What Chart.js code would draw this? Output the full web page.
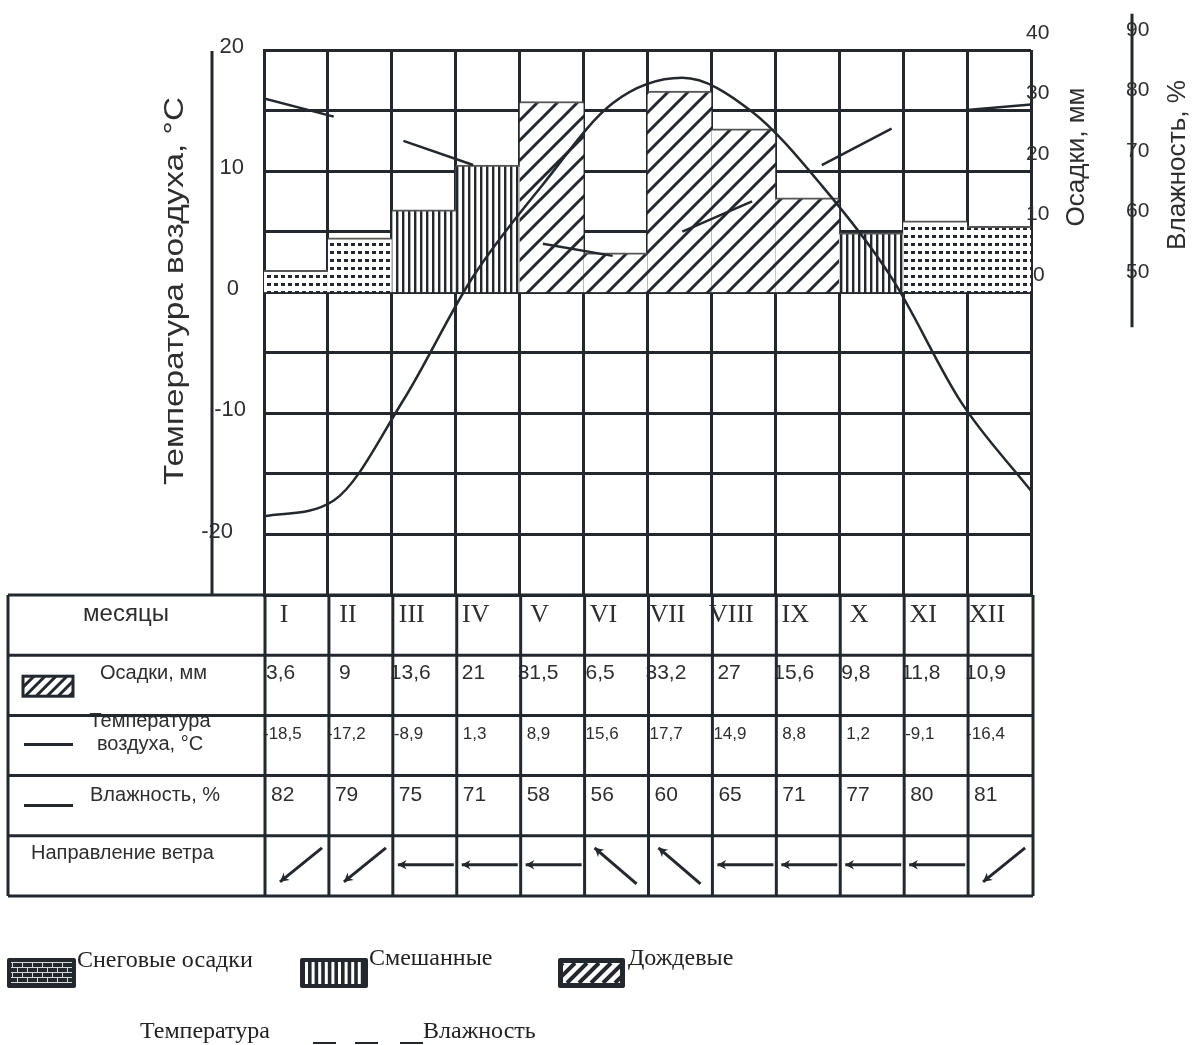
<!DOCTYPE html>
<html><head><meta charset="utf-8">
<script src="https://cdn.jsdelivr.net/npm/chart.js@4.4.1/dist/chart.umd.min.js"></script>
<style>html,body{margin:0;padding:0;background:#fff;overflow:hidden}#wrap{width:1192px;height:1045px;position:relative}</style>
</head><body><div id="wrap"><canvas id="c" width="1192" height="1045"></canvas></div>
<script>
const months = ['I','II','III','IV','V','VI','VII','VIII','IX','X','XI','XII'];
const precipitation = [3.6, 9, 13.6, 21, 31.5, 6.5, 33.2, 27, 15.6, 9.8, 11.8, 10.9];
const temperature = [-18.5, -17.2, -8.9, 1.3, 8.9, 15.6, 17.7, 14.9, 8.8, 1.2, -9.1, -16.4];
const humidity = [82, 79, 75, 71, 58, 56, 60, 65, 71, 77, 80, 81];
const precipType = ['snow','snow','mixed','mixed','rain','rain','rain','rain','rain','mixed','snow','snow'];
const windDir = ['SW','SW','W','W','W','NW','NW','W','W','W','W','SW'];
const tempTicks = [20, 10, 0, -10, -20];
const precipTicks = [40, 30, 20, 10, 0];
const humidityTicks = [90, 80, 70, 60, 50];

const INK = '#23282f';
const TXT = '#2e2e2e';
const SANS = '"Liberation Sans", Arial, sans-serif';
const SERIF = '"Liberation Serif", "Times New Roman", serif';
const fmt = v => String(v).replace('.', ',');

function makePattern(kind){
  const c = document.createElement('canvas');
  const g = c.getContext('2d');
  if(kind==='snow'){
    c.width=7; c.height=8;
    g.fillStyle='#fff'; g.fillRect(0,0,7,8);
    g.fillStyle=INK; g.fillRect(1,3,4,3);
  } else if(kind==='mixed'){
    c.width=6; c.height=6;
    g.fillStyle='#fff'; g.fillRect(0,0,6,6);
    g.fillStyle=INK; g.fillRect(0,0,2.4,6);
  } else {
    const s=20; c.width=s; c.height=s;
    g.fillStyle='#fff'; g.fillRect(0,0,s,s);
    g.strokeStyle=INK; g.lineWidth=3;
    g.beginPath();
    g.moveTo(-2,s+2); g.lineTo(s+2,-2);
    g.moveTo(-s/2-2,s/2+2); g.lineTo(s/2+2,-s/2-2);
    g.moveTo(s/2-2,s*1.5+2); g.lineTo(s*1.5+2,s/2-2);
    g.stroke();
  }
  return g.createPattern(c,'repeat');
}
const patterns = {snow:makePattern('snow'), mixed:makePattern('mixed'), rain:makePattern('rain')};

function seg(ctx,x1,y1,x2,y2){ctx.beginPath();ctx.moveTo(x1,y1);ctx.lineTo(x2,y2);ctx.stroke();}
function arrow(ctx,x1,y1,x2,y2){
  ctx.lineWidth=3; ctx.strokeStyle=INK; ctx.fillStyle=INK;
  seg(ctx,x1,y1,x2,y2);
  const ang=Math.atan2(y2-y1,x2-x1), L=10, W=0.5;
  ctx.beginPath();
  ctx.moveTo(x2,y2);
  ctx.lineTo(x2-L*Math.cos(ang-W), y2-L*Math.sin(ang-W));
  ctx.lineTo(x2-L*0.6*Math.cos(ang), y2-L*0.6*Math.sin(ang));
  ctx.lineTo(x2-L*Math.cos(ang+W), y2-L*Math.sin(ang+W));
  ctx.closePath(); ctx.fill();
}
function hatchBox(ctx,x,y,w,h,step){
  ctx.save();
  ctx.fillStyle='#fff'; ctx.fillRect(x,y,w,h);
  ctx.beginPath(); ctx.rect(x,y,w,h); ctx.clip();
  ctx.strokeStyle=INK; ctx.lineWidth=3;
  for(let k=-h;k<w+h;k+=step){ seg(ctx,x+k,y+h,x+k+h,y); }
  ctx.restore();
  ctx.strokeStyle=INK; ctx.lineWidth=3; ctx.strokeRect(x,y,w,h);
}
function vText(ctx,text,cx,cy,font,len){
  ctx.save(); ctx.translate(cx,cy); ctx.rotate(-Math.PI/2);
  ctx.font=font; ctx.textAlign='center'; ctx.textBaseline='middle';
  const w=ctx.measureText(text).width; ctx.scale(len/w,1);
  ctx.fillText(text,0,0); ctx.restore();
}

const deco = {
  id:'deco',
  afterDraw(chart){
    const {ctx, chartArea:a, scales} = chart;
    const yT=scales.y, yP=scales.yP, yH=scales.yH;
    const colW=(a.right-a.left)/12;
    const colL=i=>a.left+i*colW;
    ctx.save();
    ctx.strokeStyle=INK; ctx.lineWidth=3; ctx.lineCap='butt';
    // left temperature axis
    seg(ctx,212,a.top+1,212,a.bottom);
    ctx.fillStyle=TXT; ctx.font='22px '+SANS; ctx.textBaseline='middle'; ctx.textAlign='right';
    const tx={'20':244,'10':244,'0':239,'-10':246,'-20':233};
    tempTicks.forEach(v=>ctx.fillText(String(v), tx[String(v)], yT.getPixelForValue(v)-3));
    ctx.fillStyle=TXT;
    vText(ctx,'Температура воздуха, °C',176,291,'27px '+SANS,388);
    // precipitation axis labels
    ctx.textAlign='left'; ctx.textBaseline='middle'; ctx.font='21px '+SANS;
    precipTicks.forEach(v=>ctx.fillText(String(v), v===0?1033:1026, yP.getPixelForValue(v)-17));
    vText(ctx,'Осадки, мм',1077,157,'25px '+SANS,139);
    // humidity axis
    seg(ctx,1132,yH.getPixelForValue(96),1132,yH.getPixelForValue(44.2));
    ctx.fillStyle=TXT; ctx.textAlign='left'; ctx.textBaseline='middle'; ctx.font='21px '+SANS;
    humidityTicks.forEach(v=>ctx.fillText(String(v),1126,yH.getPixelForValue(v)-20));
    vText(ctx,'Влажность, %',1178,165,'25px '+SANS,170);

    // ---- table ----
    const rowH=60.2; const r=k=>a.bottom+k*rowH;
    const tL=8, tR=a.right+2;
    ctx.fillStyle=TXT; ctx.textBaseline='middle';
    ctx.textAlign='center'; ctx.font='24px '+SANS; ctx.fillText('месяцы',126,r(0)+19);
    ctx.font='26px '+SERIF; ctx.textBaseline='alphabetic';
    months.forEach((m,i)=>ctx.fillText(m, colL(i)+colW/2-12, r(0)+27));
    ctx.textBaseline='middle'; ctx.textAlign='left';
    ctx.font='20px '+SANS; ctx.fillText('Осадки, мм',100,r(1)+18);
    ctx.textAlign='center'; ctx.fillText('Температура',150,r(2)+6); ctx.fillText('воздуха, °C',150,r(2)+29);
    ctx.textAlign='left'; ctx.fillText('Влажность, %',90,r(3)+20);
    ctx.fillText('Направление ветра',31,r(4)+18);
    const o1={1:11,2:6,3:2,4:-2};
    ctx.font='21px '+SANS;
    precipitation.forEach((v,i)=>{const s=fmt(v); ctx.fillText(s, colL(i)+o1[s.length], r(1)+18);});
    const o2={3:7,4:2,5:-1};
    ctx.font='17px '+SANS;
    temperature.forEach((v,i)=>{const s=fmt(v); ctx.fillText(s, colL(i)+o2[s.length], r(2)+19);});
    ctx.font='21px '+SANS;
    humidity.forEach((v,i)=>ctx.fillText(fmt(v), colL(i)+7, r(3)+20));
    // legend marks in table
    hatchBox(ctx,23,r(1)+21,50,20,11);
    ctx.strokeStyle=INK; ctx.lineWidth=3;
    seg(ctx,24,r(2)+29,73,r(2)+29);
    seg(ctx,24,r(3)+30,73,r(3)+30);
    // wind arrows
    windDir.forEach((d,i)=>{
      const x=colL(i), y=r(4);
      if(d==='SW') arrow(ctx,x+58,y+12,x+16,y+46);
      else if(d==='NW') arrow(ctx,x+53,y+48,x+11,y+12);
      else arrow(ctx,x+62,y+29,x+6,y+29);
    });
    // table lines
    ctx.strokeStyle=INK; ctx.lineWidth=3;
    for(let k=0;k<=5;k++) seg(ctx,tL,r(k),tR,r(k));
    seg(ctx,tL,r(0),tL,r(5));
    for(let i=0;i<=12;i++){ const x=i===12?tR:colL(i)+1; seg(ctx,x,r(0),x,r(5)); }

    // ---- legend below ----
    ctx.fillStyle=INK;
    ctx.beginPath(); ctx.roundRect(7,958,69,30,2); ctx.fill();
    ctx.strokeStyle='#d8d8d8'; ctx.lineWidth=1;
    for(let j=0;j<5;j++){
      const yy=962+j*5; seg(ctx,11,yy+0.5,72,yy+0.5);
      if(j<4) for(let xx=12+(j%2)*5; xx<72; xx+=10) seg(ctx,xx+0.5,yy,xx+0.5,yy+5);
    }
    ctx.fillStyle=INK; ctx.beginPath(); ctx.roundRect(300,958,68,30,2); ctx.fill();
    ctx.fillStyle='#fff';
    for(let xx=305; xx<363; xx+=6.6) ctx.fillRect(xx,962,3,22);
    ctx.fillStyle=INK; ctx.beginPath(); ctx.roundRect(558,958,67,30,2); ctx.fill();
    ctx.save(); ctx.fillStyle='#fff'; ctx.fillRect(563,963,57,20);
    ctx.beginPath(); ctx.rect(563,963,57,20); ctx.clip();
    ctx.strokeStyle=INK; ctx.lineWidth=4;
    for(let k=-20;k<80;k+=12) seg(ctx,563+k,983,563+k+20,963);
    ctx.restore();
    ctx.fillStyle='#222'; ctx.font='24px '+SERIF; ctx.textBaseline='alphabetic'; ctx.textAlign='left';
    ctx.fillText('Снеговые осадки',77,967);
    ctx.fillText('Смешанные',369,965);
    ctx.fillText('Дождевые',628,965);
    ctx.fillText('Температура',140,1038);
    ctx.fillText('Влажность',423,1038);
    ctx.strokeStyle=INK; ctx.lineWidth=2;
    [[313,336],[355,378],[400,423]].forEach(p=>seg(ctx,p[0],1043,p[1],1043));
    ctx.restore();
  }
};

new Chart(document.getElementById('c'), {
  data:{
    labels: months,
    datasets:[
      {type:'line', label:'Температура', xAxisID:'x2', yAxisID:'y', order:1,
       data: temperature.map((t,i)=>({x:i,y:t})),
       borderColor:INK, borderWidth:2.5, cubicInterpolationMode:'monotone', pointRadius:0, fill:false},
      {type:'line', label:'Влажность', xAxisID:'x2', yAxisID:'yH', order:2,
       data: humidity.map((h,i)=>({x:i,y:h})),
       borderColor:INK, borderWidth:2.5, tension:0, pointRadius:0, fill:false,
       segment:{borderColor: c => c.p0DataIndex%2===0 ? INK : 'rgba(0,0,0,0)'}},
      {type:'bar', label:'Осадки', xAxisID:'x', yAxisID:'yP', order:3,
       data: precipitation, grouped:false,
       backgroundColor: precipType.map(t=>patterns[t]),
       borderColor:'#555', borderWidth:{top:2,left:0,right:0,bottom:0}, borderSkipped:false,
       barPercentage:1, categoryPercentage:1}
    ]
  },
  options:{
    responsive:false, animation:false, events:[],
    layout:{padding:{left:264, top:50, right:161, bottom:450}},
    plugins:{legend:{display:false}, tooltip:{enabled:false}},
    scales:{
      x:{type:'category', offset:true, z:1,
         ticks:{display:false}, grid:{offset:true, color:INK, lineWidth:3, drawTicks:false},
         border:{color:INK, width:3}},
      x2:{type:'linear', min:0, max:11, display:false},
      y:{type:'linear', min:-25, max:20, z:1,
         ticks:{display:false, stepSize:5}, grid:{color:INK, lineWidth:3, drawTicks:false},
         border:{color:INK, width:3}},
      yP:{type:'linear', min:-50, max:40, display:false},
      yH:{type:'linear', min:0, max:90, display:false}
    }
  },
  plugins:[deco]
});
</script></body></html>
